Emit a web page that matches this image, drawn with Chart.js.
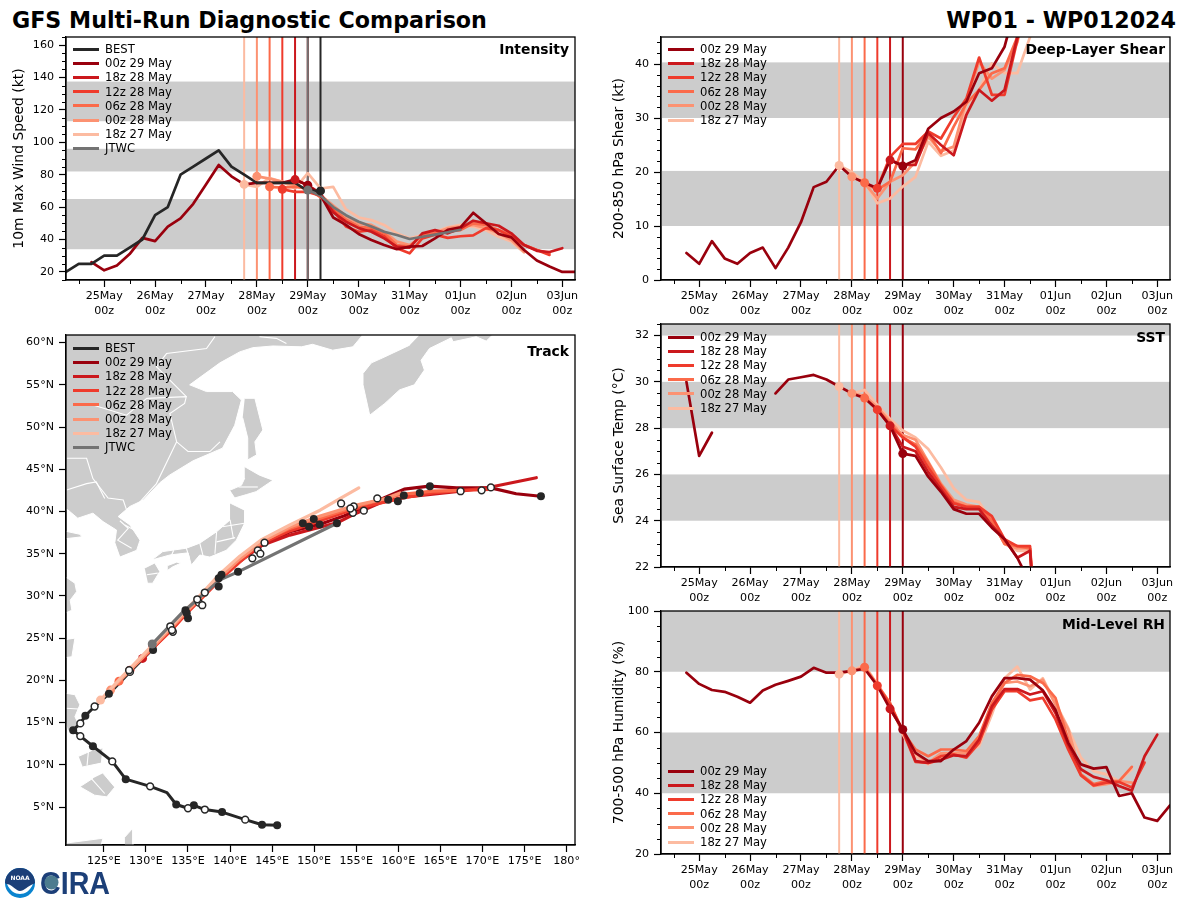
<!DOCTYPE html>
<html>
<head>
<meta charset="utf-8">
<title>GFS Multi-Run Diagnostic Comparison</title>
<script src="https://cdn.jsdelivr.net/npm/chart.js@4"></script>
<style>
  html, body { margin: 0; padding: 0; background: #fff; }
  body { width: 1200px; height: 900px; position: relative; overflow: hidden; font-family: "DejaVu Sans", sans-serif; color: #000; }
  canvas { position: absolute; }
  .head { position: absolute; top: 6px; font-size: 22.2px; font-weight: bold; white-space: nowrap; line-height: 28px; }
  .tag { position: absolute; font-size: 13.9px; font-weight: bold; white-space: nowrap; line-height: 16px; }
  .row { position: absolute; font-size: 11.6px; line-height: 14px; white-space: nowrap; }
  .swatch { position: absolute; width: 26px; height: 3px; }
</style>
</head>
<body>
<div class="head" style="left:12px">GFS Multi-Run Diagnostic Comparison</div>
<div class="head" style="right:24px">WP01 - WP012024</div>
<canvas id="intensity"></canvas>
<canvas id="track"></canvas>
<canvas id="shear"></canvas>
<canvas id="sst"></canvas>
<canvas id="rh"></canvas>
<svg style="position:absolute;left:0;top:862px" width="120" height="38">
  <circle cx="20" cy="21" r="15" fill="#0a84cf"/>
  <path d="M5 21a15 15 0 0 1 30 0c-5 3-9 9-15 9s-10-6-15-9z" fill="#1c3f78"/>
  <path d="M7 22c6 1 9 7 13 7s8-5 13-7c-3 7-8 10-13 10s-10-3-13-10z" fill="#fff"/>
  <text x="20" y="18" font-size="6" font-weight="bold" fill="#fff" text-anchor="middle">NOAA</text>
  <text x="40" y="32" font-family="Liberation Sans" font-size="32" font-weight="bold" fill="#1c3f78" textLength="70" lengthAdjust="spacingAndGlyphs">CIRA</text>
  <circle cx="51.5" cy="20.5" r="7" fill="#4d7c8f"/>
</svg>

<script>
// six hourly steps, hours from 00z 25 May
const stepHours = [-18,-12,-6,0,6,12,18,24,30,36,42,48,54,60,66,72,78,84,90,96,102,108,114,120,126,132,138,144,150,156,162,168,174,180,186,192,198,204,210,216,222];
const dayTicks = [0,24,48,72,96,120,144,168,192,216];
const dayLabels = ['25May','26May','27May','28May','29May','30May','31May','01Jun','02Jun','03Jun'];

const runNames = ['00z 29 May','18z 28 May','12z 28 May','06z 28 May','00z 28 May','18z 27 May'];
const runColors = ['#99000d','#cb181d','#ef3b2c','#fb6a4a','#fc9272','#fcbba1'];
const runStartStep = [19,18,17,16,15,14];
const bestColor = '#262626';
const jtwcColor = '#737373';

// Intensity (kt)
const vmaxBest = [20,25,25,30,30,35,40,55,60,80,85,90,95,85,80,75,75,75,75,70,70];
const vmaxJtwc = [null,null,null,null,null,null,null,null,null,null,null,null,null,null,null,null,null,null,null,70.5,67,60,55,51,48,44.8,42.8,40.3,41.7,43,44.5,46];
const vmax00z29 = [null,null,26,21,24,31,41,39,48,53,62,74,86,79,74,75,75,75,77,73.5,67.4,53.6,49,43.4,39.7,36.6,34,35.6,36,40.7,46,47.5,56.5,50,43.4,41.3,33.5,27,23.3,20,20];
const vmax18z28 = [77,73.5,68.4,56.7,51,47,44.8,40.7,35.6,35,43.8,45.8,43.8,46.9,51.6,50,48.5,43.8,36.6,33,32.3,34.6];
const vmax12z28 = [71,69.4,69.4,67,58,48,44.8,45.8,42,34.6,31.5,40.7,43,41,42,42.5,47,45.8,41.7,36.6,33.5,30.5];
const vmax06z28 = [72.5,72,72.5,71.5,66,59,52.4,48,47,43.8,36.6,35.6,42.8,43.8,44.8,45.8,50,49,45.8,42.8,36.6,33.5,31.5];
const vmax00z28 = [79,77.6,75.6,73.5,70.5,67.4,61,54.5,50,49,44.8,38.7,36.6,42,44,47,48,49,47,43.8,39.7,32.5];
const vmax18z27 = [74,72.5,78,75.6,71.5,81,71.5,72.5,58.6,53.6,52,49,43.8,40.7,42.8,44.8,47.5,49,48,45.8,41.7,38.7,32];

// Deep-layer shear (kt)
const shear00z29 = [null,null,5,3,7.2,4,3,5,6,2.2,6,10.7,17.2,18.2,21.2,19.1,18,17,22.2,21.1,22.2,28,30,31.2,33,38.3,39.2,43.2,52];
const shear18z28 = [22.2,21.3,21.3,27.2,25,23.1,30.6,35.2,33.2,35.2,45,55];
const shear12z28 = [17,22.8,25.2,25.2,27.5,26.2,30.2,33.6,41.2,34.3,34.3,44.4,55];
const shear06z28 = [18,16.7,18.2,24.4,24.2,27.2,23.5,28.4,32.7,35.2,38.3,39.2,45,52];
const shear00z28 = [19.1,17.9,15.1,18.2,19.4,21.9,26.5,23.8,24.7,33.3,40.4,37.3,38.9,44,54];
const shear18z27 = [21.2,20,18.2,14.2,15.1,17.3,19.1,25.6,23,24,32.4,35.2,40.1,38.3,38.3,45,55];

// Sea surface temperature (C)
const sst00z29 = [null,null,30,26.8,27.8,null,null,null,null,29.5,30.1,30.2,30.3,30.1,29.8,29.5,29.3,28.8,28.1,26.9,26.8,25.9,25.25,24.5,24.3,24.3,23.7,23.2,22.4,21.3];
const sst18z28 = [28.1,27.2,27,26.1,25.35,24.6,24.5,24.5,23.8,23.2,22.4,22.7,15];
const sst12z28 = [28.8,28.1,27.6,27.2,26.3,25.5,24.75,24.6,24.6,24.2,23.2,22.9,22.9,15];
const sst06z28 = [29.3,28.8,28.2,27.6,27.3,26.5,25.55,24.8,24.6,24.6,24,23,22.9,22.8,15];
const sst00z28 = [29.5,29.4,28.9,28.3,27.7,27.5,26.55,25.6,24.9,24.7,24.6,24,23,22.8,22.8,15];
const sst18z27 = [29.8,29.5,29.65,29,28.4,27.9,27.6,27.1,26.3,25.4,24.9,24.8,24,23,22.7,22.7,15];

// Mid-level humidity (%)
const rh00z29 = [null,null,79.7,76,74,73.4,71.8,69.8,73.8,75.7,77,78.4,81.3,79.7,79.7,80.3,81,75.4,67.8,61,53.3,50.6,50.6,54.4,57.2,63.2,71.9,77.9,77.9,77.4,73.9,67.5,56.6,49.5,48.1,48.6,39.1,40,32,30.9,36];
const rh18z28 = [67.8,61,50.6,50,51,52.5,52.2,57.7,68.6,74.3,74.3,72.5,73.6,66.4,56,47.9,45.4,44.3,42.4,40.8,52.2,59.3];
const rh12z28 = [75.4,69.2,60.4,50.3,50,52.2,52.8,51.7,56.6,67.5,73.6,73.6,70.6,71.4,64.3,54.4,45.9,42.6,43.5,43.7,41.9,50.1];
const rh06z28 = [81.5,75.7,69.7,60.4,54.4,52.2,54.4,54.4,53.9,58.8,69.7,76.3,79,78.5,76.3,71.4,57.7,46.2,43,44,44,48.7];
const rh00z28 = [80.3,81.5,75.7,69.2,60.1,53.3,50,53.1,53.3,53.3,58.3,69.2,76.3,76.8,75.2,77.4,69.2,61,46.2,42.4,43,44,43.5];
const rh18z27 = [79.2,80.3,82.3,75.7,69.7,59.3,52.2,49.5,51.7,52.8,53.3,55.5,65.9,77.9,81.7,74.1,77.9,69.7,61.5,51.7,47.3,46.2,44,47.9];

// Shaded bands
const vmaxBands = [[34,65],[82,96],[113,137.5]];
const shearBands = [[10,20.2],[30,40.3]];
const sstBands = [[24,26],[28,30],[32,33]];
const rhBands = [[40,60],[80,100]];

// Track, lon / lat pairs
const trackBest = [[145.6,2.83],[143.8,2.9],[141.8,3.5],[139.05,4.4],[137,4.7],[135.7,5.2],[135,4.85],[133.6,5.3],[132.5,6.7],[130.5,7.45],[127.6,8.3],[126,10.4],[123.7,12.2],[122.2,13.4],[121.35,14.1],[122.2,14.9],[122.8,15.8],[123.9,16.9],[125.6,18.4],[128.1,21],[130.7,23.6]];
const track00z29 = [[130.8,24.2],[133.1,26.4],[134.9,28.3],[137,30.3],[138.8,32.2],[140.9,33.9],[143.8,36],[147.1,37.6],[150.7,38.5],[153.6,39.5],[156.9,41],[160.7,42.65],[163.7,43],[166.9,42.8],[171,42.8],[174,42.1],[176.9,41.8]];
const track18z28 = [[129.6,22.6],[133.1,26.1],[134.9,28.1],[137.2,30.5],[139,32.2],[141.15,34.2],[143.8,36],[147.1,37.2],[152.8,38.7],[155,39.8],[157.8,41],[160.75,41.7],[167.4,42.4],[171,42.9],[176.4,44]];
const track12z28 = [[128.1,21.2],[130.8,23.8],[133.1,26],[134.9,28],[137,30.1],[138.8,31.9],[141.15,34],[143.8,36.25],[147.1,37.7],[150.7,38.9],[154.8,40.3],[160.5,41.6],[164.1,42.2],[167.4,42.5],[170.8,42.6]];
const track06z28 = [[126.8,19.9],[130.8,24],[133.1,26.4],[134.9,28.3],[136.8,30.2],[138.8,32.3],[141.15,34.5],[143.8,36.5],[147.1,38],[150.7,39.2],[155,40.6],[160.2,42],[164.1,42.4],[167.4,42.5]];
const track00z28 = [[125.8,18.85],[130.8,23.9],[133.1,26.3],[134.9,28.2],[136.8,30.1],[138.8,32.2],[141.15,34.35],[143.8,36.4],[147.1,38.15],[150.7,39.45],[155,40.75],[158.4,41.5],[160.2,42.2]];
const track18z27 = [[124.6,17.66],[126.66,19.9],[130.8,24.2],[133.1,26.5],[134.9,28.5],[136.8,30.45],[138.8,32.6],[141.15,34.7],[143.8,36.7],[147.1,38.4],[150.7,40.15],[153,41.5],[155.3,42.8]];
const trackJtwc = [[130.75,24.3],[134.4,28.1],[138.8,31.9],[140.95,32.85],[152.7,38.6]];
const solidMarks = [[145.6,2.83],[143.8,2.9],[139.05,4.4],[135.7,5.2],[133.6,5.3],[127.6,8.3],[123.7,12.2],[121.35,14.1],[122.8,15.8],[125.6,18.4],[130.85,23.6],[134.7,28.3],[135,27.35],[134.85,27.95],[138.65,31.1],[138.65,32.1],[138.98,32.5],[140.95,32.85],[148.65,38.6],[149.4,38.2],[150.65,38.45],[149.95,39.1],[152.7,38.6],[158.8,41.4],[159.95,41.2],[160.65,41.9],[162.55,42.2],[163.75,43],[176.95,41.8]];
const openMarks = [[141.8,3.5],[137,4.7],[135,4.85],[130.5,7.45],[126,10.4],[122.2,13.4],[122.2,14.9],[123.9,16.9],[128.1,21],[128,21.2],[132.9,26.4],[133.2,25.75],[133.1,25.95],[136.3,29.2],[136.7,28.9],[137,30.4],[136.1,29.6],[142.65,34.45],[143.3,35.4],[143.6,35],[144.1,36.3],[153.2,40.95],[154.7,40.6],[154.6,39.85],[154.3,40.35],[155.9,40.1],[157.5,41.55],[167.4,42.4],[169.9,42.5],[171,42.85]];

// Land outlines, lon / lat pairs
const landAsia = [[119.8,61.5],[156,61.5],[155.6,60.7],[154.6,59.5],[152.2,59.1],[149.8,59.8],[148.5,59.5],[145.1,59.6],[142.7,59.4],[141.15,58.9],[138.8,57.6],[135.2,55],[137.2,54.2],[140.3,54.2],[141.35,53.2],[140.55,50.2],[139.1,47.5],[135.6,46],[132.8,44.3],[131.65,43.4],[129.7,41.35],[128.1,40.6],[126.7,39.4],[128.1,38.4],[129.3,36.6],[128.9,35.4],[126.9,34.6],[126.3,36.3],[126.5,37.8],[124.9,38.8],[123.7,39.8],[121.9,39.2],[120.7,40.2],[119.8,40.2]];
const landKamchatka = [[163.1,61.5],[171.2,61.5],[171.2,60.9],[170.45,60.18],[169.26,60.69],[166.5,60.1],[166.3,60.57],[163.7,59.3],[162.7,57.9],[163.1,56.75],[161.9,55],[160.15,54.4],[158.4,52.8],[156.6,51.4],[155.8,55],[155.8,56.35],[156.8,57.6],[158.15,58.2],[161.35,59.7]];
const landSakhalin = [[141.75,53.4],[142.95,53.4],[143.9,49.65],[142.95,48.25],[143.15,46.7],[142.1,46.1],[142.1,48.7],[141.5,51.1]];
const landHokkaido = [[141.75,45.3],[143.5,44.3],[145.1,43.7],[143.1,42.35],[141.95,42],[140.55,41.6],[139.95,42.5],[141.35,43.1],[141.75,43.95]];
const landHonshu = [[140,41],[141.75,40.15],[141.75,38.65],[140.75,36.6],[139.55,35.4],[137.6,34.6],[136.4,34.85],[135.4,33.65],[135,35.1],[132.85,34.85],[130.7,34.25],[132,35.25],[134.8,35.65],[136.4,36.25],[138.4,37.6],[140,39]];
const landShikoku = [[132.6,33.6],[133.65,34],[134.2,33.9],[133.2,33.45],[132.6,33.05]];
const landKyushu = [[129.85,33.3],[131.05,33.9],[131.65,32.9],[130.8,31.5],[130.25,31.5]];
const landShandong = [[119.8,37.8],[122.15,37.3],[122.4,37],[119.8,36.7]];
const landChinaEast = [[119.8,32.7],[121.56,31.5],[121.76,30.5],[121,29.5],[121.2,28.3],[119.8,27.7]];
const landTaiwan = [[120.2,24.8],[121.56,25],[121.2,22.8],[120.2,22.65]];
const landLuzon = [[120.3,18.5],[121.56,18.3],[122.15,17.1],[121.56,15.7],[122.2,14.4],[120.7,14],[120.3,15.5]];
const landVisayas = [[122,11],[123.7,11.75],[124.9,12],[124.7,10.2],[122.5,9.75]];
const landMindanao = [[124.9,9],[126.3,7.35],[125.35,6.2],[123.9,6.4],[122.15,7.4],[123.7,8.4]];
const landCelebes = [[120.3,0.7],[124.9,1.3],[124.5,-0.1],[120.3,-0.1]];
const landHalmahera = [[127.5,1.45],[128.45,2.5],[128.45,-0.1],[127.5,-0.1]];
const landShapes = [landAsia,landKamchatka,landSakhalin,landHokkaido,landHonshu,landShikoku,landKyushu,landShandong,landChinaEast,landTaiwan,landLuzon,landVisayas,landMindanao,landCelebes,landHalmahera];

const borderAmur = [[123.7,52.6],[127.7,51.4],[130.1,53.4],[134.8,53.6],[134.6,52.8],[132.85,51.6],[133.65,48.25],[135,47.1],[137.6,47.1],[138.8,48.25]];
const borderManchuria = [[120.57,46.3],[122.95,46.3],[123.7,43.9],[125.5,41.6],[127.3,41.35],[127.9,39.6],[131.25,43.3],[133.65,48.25]];
const borderLiaoning = [[120.57,42.55],[122.95,43.3],[124.1,43.5],[125.1,41.55]];
const borderYakutia = [[138.2,60.7],[137.2,59.3],[132.45,58.7],[131.25,57.15],[134.8,53.6]];
const borderKolyma = [[143.5,60.7],[145.5,60.5],[146.7,59.9]];
const borderKoreaA = [[126.9,38.9],[127.9,38],[126.65,36.6],[128.3,35.65]];
const borderKoreaB = [[127.5,38.4],[129,37.6]];
const borderHonshuA = [[138.4,37.6],[138.2,35]];
const borderHonshuB = [[140,39],[140.4,36.8]];
const borderHonshuC = [[136.4,36.25],[136.8,34.7]];
const borderHonshuD = [[133.3,35.4],[132.9,34.5]];
const borderHonshuE = [[139.1,38.2],[141.7,38.6]];
const borderHonshuF = [[138.4,36.4],[140.6,36.9]];
const borderHonshuG = [[134.8,35.65],[135.2,34.4]];
const borderHokkaido = [[141,42.9],[143.3,42.9]];
const borderKyushu = [[130.1,32.5],[131.4,32.7]];
const borderVisayas = [[123.2,11.9],[123,9.9]];
const borderMindanao = [[123.5,8.4],[125.1,6.6]];
const borderLuzon = [[120.4,16.7],[122,16.6]];
const borderLines = [borderAmur,borderManchuria,borderLiaoning,borderYakutia,borderKolyma,borderKoreaA,borderKoreaB,borderHonshuA,borderHonshuB,borderHonshuC,borderHonshuD,borderHonshuE,borderHonshuF,borderHonshuG,borderHokkaido,borderKyushu,borderVisayas,borderMindanao,borderLuzon];

const lonTicks = [125,130,135,140,145,150,155,160,165,170,175,180];
const latTicks = [5,10,15,20,25,30,35,40,45,50,55,60];

const FONT = 'DejaVu Sans';

// bands under the lines, frame and small ticks over them
const panelDecor = {
    id: 'panelDecor',
    beforeDatasetsDraw(chart, args, opts) {
        const a = chart.chartArea, y = chart.scales.y, ctx = chart.ctx;
        ctx.save();
        ctx.beginPath();
        ctx.rect(a.left, a.top, a.width, a.height);
        ctx.clip();
        ctx.fillStyle = '#cccccc';
        (opts.bands || []).forEach(b => {
            const y1 = y.getPixelForValue(b[1]), y0 = y.getPixelForValue(b[0]);
            ctx.fillRect(a.left, y1, a.width, y0 - y1);
        });
        ctx.restore();
    },
    afterDraw(chart, args, opts) {
        const a = chart.chartArea, ctx = chart.ctx;
        ctx.save();
        ctx.strokeStyle = '#000';
        ctx.lineWidth = 1;
        (opts.xMinor || []).forEach(v => {
            const p = Math.round(chart.scales.x.getPixelForValue(v)) + 0.5;
            ctx.beginPath(); ctx.moveTo(p, a.bottom); ctx.lineTo(p, a.bottom + 4); ctx.stroke();
        });
        (opts.yMinor || []).forEach(v => {
            const p = Math.round(chart.scales.y.getPixelForValue(v)) + 0.5;
            ctx.beginPath(); ctx.moveTo(a.left, p); ctx.lineTo(a.left - 4, p); ctx.stroke();
        });
        ctx.lineWidth = 1.3;
        ctx.strokeRect(a.left, a.top, a.width, a.height);
        ctx.restore();
    }
};

function axisStyle(extra) {
    return Object.assign({
        grid: { drawOnChartArea: false, drawTicks: true, tickLength: 7, tickColor: '#000', tickWidth: 1.2 },
        border: { display: true, color: '#000', width: 1.3 }
    }, extra);
}

function tickFont() {
    return { family: FONT, size: 11.1, lineHeight: 1.35 };
}

// the tick label padding would otherwise push the plot area down
function fixHeight(s) {
    s.height = 50;
    s.paddingLeft = 0;
    s.paddingRight = 0;
}

function fixWidth(s) {
    s.width = 66;
    s.paddingTop = 0;
    s.paddingBottom = 0;
}

function place(canvas, left, top, width, height) {
    canvas.width = width;
    canvas.height = height;
    canvas.style.left = left + 'px';
    canvas.style.top = top + 'px';
    canvas.style.width = width + 'px';
    canvas.style.height = height + 'px';
}

function pad(n, values) {
    return new Array(n).fill(null).concat(values);
}

function seriesLine(label, color, values, order, width) {
    return {
        label, data: values, borderColor: color, backgroundColor: color, borderWidth: width || 2.7,
        borderJoinStyle: 'round', borderCapStyle: 'round', order,
        pointRadius: 0, tension: 0
    };
}

// the circle at the start of a run
function startDot(color, values, order) {
    return { data: values, showLine: false, backgroundColor: color, borderWidth: 0, pointRadius: 4.5, order };
}

function initLine(hour, color, yMin, yMax, order) {
    return {
        data: [{ x: hour, y: yMin }, { x: hour, y: yMax }], borderColor: color, borderWidth: 2,
        pointRadius: 0, order
    };
}

function minorTicks(from, to, step, majors) {
    const out = [];
    for (let v = from; v <= to; v += step) {
        if (!majors.includes(v)) out.push(v);
    }
    return out;
}

function timeChart(p) {
    const canvas = document.getElementById(p.id);
    place(canvas, p.left - 66, p.top - 10, 509 + 66 + 10, 243 + 10 + 50);
    const sets = [];
    if (p.best) {
        sets.push(seriesLine('BEST', bestColor, p.best, 0));
        sets.push(startDot(bestColor, pad(20, [p.best[20]]), -4));
    }
    p.runs.forEach((vals, i) => {
        const s = runStartStep[i];
        const data = i === 0 ? vals : pad(s, vals);
        sets.push(seriesLine(runNames[i], runColors[i], data, i + 1));
        sets.push(startDot(runColors[i], pad(s, [data[s]]), -2));
        sets.push(initLine(stepHours[s], runColors[i], p.yMin, p.yMax, 20));
    });
    if (p.jtwc) {
        sets.push(seriesLine('JTWC', jtwcColor, p.jtwc, -1));
        sets.push(startDot(jtwcColor, pad(19, [p.jtwc[19]]), -5));
        sets.push(initLine(96, jtwcColor, p.yMin, p.yMax, 19));
        sets.push(initLine(102, bestColor, p.yMin, p.yMax, 18));
    }
    new Chart(canvas, {
        type: 'line',
        data: { labels: stepHours, datasets: sets },
        plugins: [panelDecor],
        options: {
            responsive: false, animation: false, events: [],
            layout: { autoPadding: false, padding: { top: 10, right: 10, left: 0, bottom: 0 } },
            plugins: {
                legend: { display: false }, tooltip: { enabled: false },
                panelDecor: { bands: p.bands, xMinor: minorTicks(-12, 204, 24, []), yMinor: p.yMinor }
            },
            scales: {
                x: axisStyle({
                    type: 'linear', min: -18, max: 222,
                    afterBuildTicks: s => { s.ticks = dayTicks.map(v => ({ value: v })); },
                    afterFit: fixHeight,
                    ticks: {
                        color: '#000', font: tickFont(), padding: 2, autoSkip: false, maxRotation: 0,
                        callback: v => [dayLabels[dayTicks.indexOf(v)], '00z']
                    }
                }),
                y: axisStyle({
                    min: p.yMin, max: p.yMax,
                    afterBuildTicks: s => { s.ticks = p.yTicks.map(v => ({ value: v })); },
                    afterFit: fixWidth,
                    ticks: { color: '#000', font: tickFont(), padding: 5, autoSkip: false, callback: v => String(v) },
                    title: { display: true, text: p.yTitle, color: '#000', font: { family: FONT, size: 13.9 }, padding: { top: p.titlePad, bottom: 0 } }
                })
            }
        }
    });
}

function trackChart() {
    const canvas = document.getElementById('track');
    place(canvas, 0, 325, 585, 510 + 10 + 50);
    const toPoints = list => list.map(q => ({ x: q[0], y: q[1] }));
    const sets = [];
    landShapes.forEach(shape => sets.push({
        data: toPoints(shape), showLine: true, fill: 'shape', backgroundColor: '#cccccc',
        borderColor: '#ffffff', borderWidth: 1, pointRadius: 0, order: 100
    }));
    borderLines.forEach(line => sets.push({
        data: toPoints(line), showLine: true, borderColor: '#ffffff', borderWidth: 1.1, pointRadius: 0, order: 90
    }));
    // on the map the palest run sits on top, its circle with it
    const runs = [track00z29, track18z28, track12z28, track06z28, track00z28, track18z27];
    runs.forEach((r, i) => {
        const line = seriesLine(runNames[i], runColors[i], toPoints(r), 6 - i, 3.2);
        line.showLine = true;
        sets.push(line);
        sets.push(startDot(runColors[i], toPoints(r.slice(0, 1)), 6.5 - i));
    });
    const bestLine = seriesLine('BEST', bestColor, toPoints(trackBest), 10, 3);
    bestLine.showLine = true;
    sets.push(bestLine);
    const jtwcLine = seriesLine('JTWC', jtwcColor, toPoints(trackJtwc), -1, 3.2);
    jtwcLine.showLine = true;
    sets.push(jtwcLine);
    sets.push(startDot(jtwcColor, toPoints(trackJtwc.slice(0, 1)), -5));
    sets.push({ data: toPoints(solidMarks), backgroundColor: bestColor, borderWidth: 0, pointRadius: 4, order: -3 });
    sets.push({ data: toPoints(openMarks), backgroundColor: '#ffffff', borderColor: bestColor, borderWidth: 1.5, pointRadius: 3.4, order: -4 });
    new Chart(canvas, {
        type: 'scatter',
        data: { datasets: sets },
        plugins: [panelDecor],
        options: {
            responsive: false, animation: false, events: [],
            layout: { autoPadding: false, padding: { top: 10, right: 10, left: 0, bottom: 0 } },
            plugins: { legend: { display: false }, tooltip: { enabled: false }, panelDecor: {} },
            scales: {
                x: axisStyle({
                    type: 'linear', min: 120.5, max: 181,
                    afterBuildTicks: s => { s.ticks = lonTicks.map(v => ({ value: v })); },
                    afterFit: fixHeight,
                    ticks: { color: '#000', font: tickFont(), padding: 2, autoSkip: false, maxRotation: 0, callback: v => (v === 180 ? '180°' : v + '°E') }
                }),
                y: axisStyle({
                    min: 0.5, max: 60.9,
                    afterBuildTicks: s => { s.ticks = latTicks.map(v => ({ value: v })); },
                    afterFit: fixWidth,
                    ticks: { color: '#000', font: tickFont(), padding: 5, autoSkip: false, callback: v => v + '°N' }
                })
            }
        }
    });
}

// legend rows as plain text next to the plots
function legend(left, firstRow, names, colors) {
    names.forEach((name, i) => {
        const rowY = firstRow + i * 14.2;
        const sw = document.createElement('div');
        sw.className = 'swatch';
        sw.style.left = left + 'px';
        sw.style.top = (rowY - 1.5) + 'px';
        sw.style.background = colors[i];
        document.body.appendChild(sw);
        const t = document.createElement('div');
        t.className = 'row';
        t.style.left = (left + 32) + 'px';
        t.style.top = (rowY - 7) + 'px';
        t.textContent = name;
        document.body.appendChild(t);
    });
}

function tag(text, right, top) {
    const d = document.createElement('div');
    d.className = 'tag';
    d.style.right = (1200 - right) + 'px';
    d.style.top = top + 'px';
    d.textContent = text;
    document.body.appendChild(d);
}

timeChart({
    id: 'intensity', left: 66, top: 37, yMin: 15, yMax: 165, yTicks: [20,40,60,80,100,120,140,160],
    yMinor: minorTicks(15, 165, 5, [20,40,60,80,100,120,140,160]), bands: vmaxBands,
    yTitle: '10m Max Wind Speed (kt)', titlePad: 11, best: vmaxBest, jtwc: vmaxJtwc,
    runs: [vmax00z29, vmax18z28, vmax12z28, vmax06z28, vmax00z28, vmax18z27]
});
timeChart({
    id: 'shear', left: 661, top: 37, yMin: 0, yMax: 45, yTicks: [0,10,20,30,40],
    yMinor: minorTicks(0, 44, 2, [0,10,20,30,40]), bands: shearBands,
    yTitle: '200-850 hPa Shear (kt)', titlePad: 16,
    runs: [shear00z29, shear18z28, shear12z28, shear06z28, shear00z28, shear18z27]
});
timeChart({
    id: 'sst', left: 661, top: 324, yMin: 22, yMax: 32.5, yTicks: [22,24,26,28,30,32],
    yMinor: minorTicks(22.5, 32.5, 0.5, [22,24,26,28,30,32]), bands: sstBands,
    yTitle: 'Sea Surface Temp (°C)', titlePad: 16,
    runs: [sst00z29, sst18z28, sst12z28, sst06z28, sst00z28, sst18z27]
});
timeChart({
    id: 'rh', left: 661, top: 611, yMin: 20, yMax: 100, yTicks: [20,40,60,80,100],
    yMinor: minorTicks(20, 100, 5, [20,40,60,80,100]), bands: rhBands,
    yTitle: '700-500 hPa Humidity (%)', titlePad: 16,
    runs: [rh00z29, rh18z28, rh12z28, rh06z28, rh00z28, rh18z27]
});
trackChart();

legend(73, 49, ['BEST'].concat(runNames, ['JTWC']), [bestColor].concat(runColors, [jtwcColor]));
legend(73, 348, ['BEST'].concat(runNames, ['JTWC']), [bestColor].concat(runColors, [jtwcColor]));
legend(668, 49, runNames, runColors);
legend(668, 337, runNames, runColors);
legend(668, 771, runNames, runColors);

tag('Intensity', 569, 41);
tag('Track', 569, 343);
tag('Deep-Layer Shear', 1165, 41);
tag('SST', 1165, 329);
tag('Mid-Level RH', 1165, 616);
</script>
</body>
</html>
